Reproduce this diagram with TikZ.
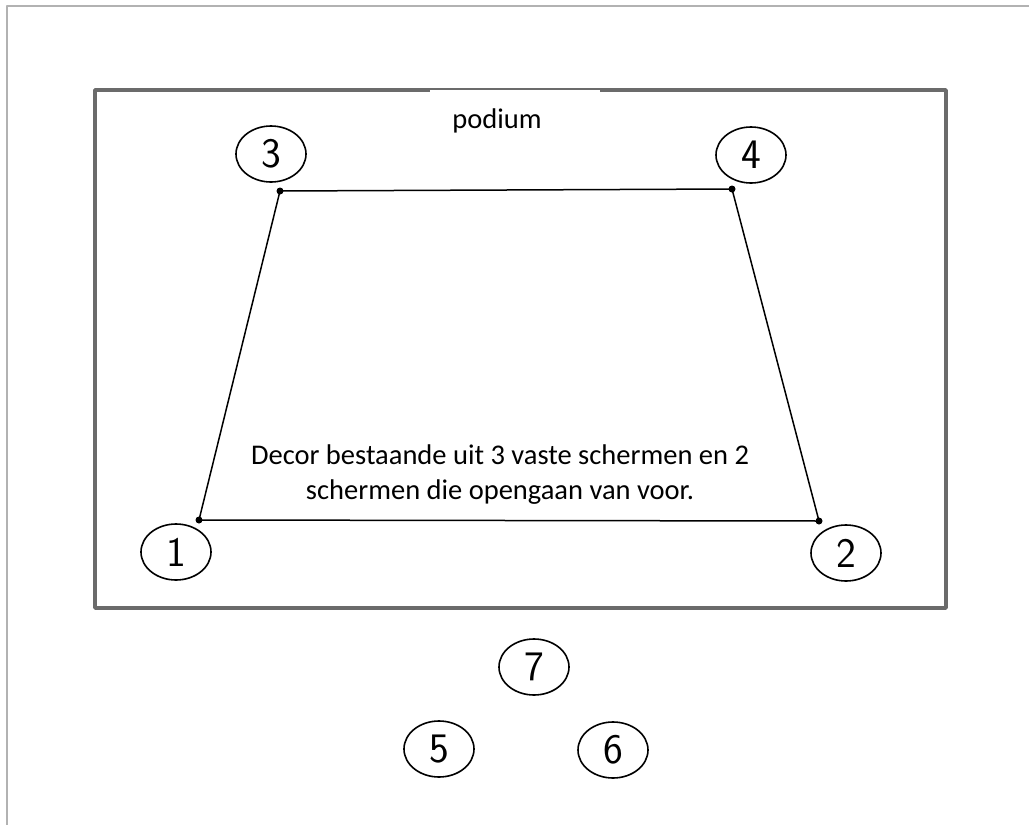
\documentclass[tikz,border=0pt]{standalone}
\usepackage{fontspec}
\setmainfont{Carlito}
\usetikzlibrary{shapes.geometric}
\definecolor{framegray}{rgb}{0.70,0.70,0.70}
\definecolor{podiumgray}{rgb}{0.42,0.42,0.42}
\tikzset{
  spot/.style={draw,ellipse,line width=1.6pt,minimum width=70pt,minimum height=56pt,inner sep=0pt,font=\fontsize{42}{42}\selectfont\sffamily},
  corner/.style={circle,fill=black,inner sep=0pt,minimum size=7pt}
}
\begin{document}
\begin{tikzpicture}[line cap=round,line join=round,x=1pt,y=-1pt]
\useasboundingbox (0,0) rectangle (1029,825);
\fill[white] (0,0) rectangle (1029,825);
\draw [line width=2.5pt,color=framegray,line cap=butt] (7,825)-- (7,6)-- (1029,6);
\draw [line width=3.5pt,color=podiumgray] (95,90) rectangle (946,608);
\node[fill=white,inner sep=0pt,minimum width=170pt,minimum height=28pt,anchor=north] (podium) at (515,89.6) {};
\node[font=\fontsize{28.5}{28.5}\selectfont] (podiumtext) at (497,121) {podium};
% hoekpunten van het decor
\node[corner] (c1) at (199,520) {};
\node[corner] (c2) at (819,521) {};
\node[corner] (c3) at (280,191) {};
\node[corner] (c4) at (732,189) {};
\draw [line width=1.5pt] (c1.center)-- (c2.center)-- (c4.center)-- (c3.center)-- cycle;
\node[align=center,font=\fontsize{28.5}{35}\selectfont] (decor) at (500,475) {Decor bestaande uit 3 vaste schermen en 2\\schermen die opengaan van voor.};
% nummers
\node[spot] (n1) at (176,552) {1};
\node[spot] (n2) at (846,553) {2};
\node[spot] (n3) at (271,154) {3};
\node[spot] (n4) at (751,155) {4};
\node[spot] (n5) at (439,749) {5};
\node[spot] (n6) at (613,750) {6};
\node[spot] (n7) at (534,667) {7};
\end{tikzpicture}
\end{document}
